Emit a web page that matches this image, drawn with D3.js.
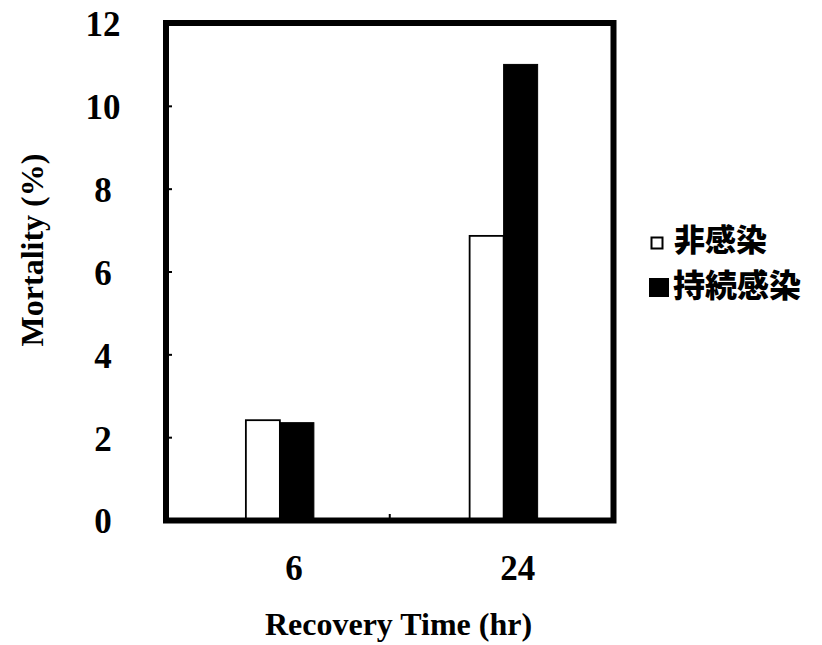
<!DOCTYPE html>
<html>
<head>
<meta charset="utf-8">
<script src="https://cdn.jsdelivr.net/npm/d3@7"></script>
<style>
    body { margin: 0; background: #fff; }
    svg { display: block; }
</style>
</head>
<body>
<script>
// values
var categories = ['6', '24'];
var seriesNames = ['非感染', '持続感染'];
var nonInfected = [2.41, 6.86];
var persistent = [2.35, 11.0];
var yTicks = [0, 2, 4, 6, 8, 10, 12];

var WIDTH = 822;
var HEIGHT = 645;
var LEFT = 166;
var RIGHT = 613.5;
var TOP = 23;
var BOTTOM = 520;
var BAR_W = 34;
var SERIF = '"Liberation Serif", "Times New Roman", serif';
var CJK = '"Noto Sans CJK JP", "Noto Sans CJK SC", sans-serif';

var svg = d3.select('body').append('svg')
    .attr('width', WIDTH)
    .attr('height', HEIGHT)

var x = d3.scaleBand().domain(categories).range([LEFT, RIGHT]).padding(0);
var y = d3.scaleLinear().domain([0, 12]).range([BOTTOM, TOP]);
var xInner = d3.scaleBand().domain(seriesNames).range([0, 2 * BAR_W]);

var rows = categories.map(function(c, i){
    return {cat: c, values: [nonInfected[i], persistent[i]]};
});

var groups = svg.selectAll('.group').data(rows).enter()
    .append('g')
    .attr('class', 'group')
    .attr('transform', function(d){
        return 'translate(' + (x(d.cat) + x.bandwidth()/2 - BAR_W + 2) + ',0)';
    })

groups.selectAll('rect').data(function(d){
        return d.values.map(function(v, j){ return {name: seriesNames[j], value: v}; });
    }).enter()
    .append('rect')
    .attr('x', function(d){ return xInner(d.name); })
    .attr('y', function(d){ return y(d.value); })
    .attr('width', xInner.bandwidth())
    .attr('height', function(d){ return BOTTOM - y(d.value); })
    .attr('fill', function(d, j){ return j === 0 ? '#fff' : '#000'; })
    .attr('stroke', '#000')
    .attr('stroke-width', function(d, j){ return j === 0 ? 1.8 : 1; })

// y axis: small ticks pointing inward, labels centred left of frame
var yAxis = svg.append('g')
    .attr('transform', 'translate(' + LEFT + ',0)')
    .call(d3.axisLeft(y).tickValues(yTicks).tickSizeInner(-6).tickSizeOuter(0));
yAxis.select('.domain').remove();
yAxis.selectAll('.tick line').attr('stroke', '#000').attr('stroke-width', 2);
yAxis.selectAll('.tick text')
    .attr('x', 103 - LEFT)
    .attr('dy', '0.37em')
    .attr('text-anchor', 'middle')
    .style('font-family', SERIF)
    .style('font-size', '35px')
    .style('font-weight', 'bold')
    .attr('fill', '#000')

// x axis labels
var xAxis = svg.append('g')
    .attr('transform', 'translate(0,' + BOTTOM + ')')
    .call(d3.axisBottom(x).tickSize(0));
xAxis.select('.domain').remove();
xAxis.selectAll('.tick text')
    .attr('y', 60)
    .attr('dy', 0)
    .attr('dx', 16)
    .style('font-family', SERIF)
    .style('font-size', '35px')
    .style('font-weight', 'bold')
    .attr('fill', '#000')

// tick mark between the categories
svg.append('line')
    .attr('x1', x(categories[1]))
    .attr('x2', x(categories[1]))
    .attr('y1', BOTTOM)
    .attr('y2', BOTTOM - 6)
    .attr('stroke', '#000')
    .attr('stroke-width', 2)

// plot frame
svg.append('rect')
    .attr('x', LEFT)
    .attr('y', TOP)
    .attr('width', RIGHT - LEFT)
    .attr('height', BOTTOM - TOP + 0.5)
    .attr('fill', 'none')
    .attr('stroke', '#000')
    .attr('stroke-width', 6)

// axis titles
svg.append('text')
    .attr('x', 398.5)
    .attr('y', 635)
    .attr('text-anchor', 'middle')
    .style('font-family', SERIF)
    .style('font-size', '32px')
    .style('font-weight', 'bold')
    .text('Recovery Time (hr)')

svg.append('text')
    .attr('transform', 'translate(43,250) rotate(-90)')
    .attr('text-anchor', 'middle')
    .style('font-family', SERIF)
    .style('font-size', '32px')
    .style('font-weight', 'bold')
    .text('Mortality (%)')

// legend
svg.append('rect')
    .attr('x', 651.5)
    .attr('y', 237.5)
    .attr('width', 11)
    .attr('height', 11)
    .attr('fill', '#fff')
    .attr('stroke', '#000')
    .attr('stroke-width', 2)
svg.append('text')
    .attr('x', 674)
    .attr('y', 251)
    .style('font-family', CJK)
    .style('font-size', '31px')
    .style('font-weight', 900)
    .text(seriesNames[0])

svg.append('rect')
    .attr('x', 649)
    .attr('y', 278)
    .attr('width', 20)
    .attr('height', 19)
    .attr('fill', '#000')
svg.append('text')
    .attr('x', 673)
    .attr('y', 297)
    .style('font-family', CJK)
    .style('font-size', '32px')
    .style('font-weight', 900)
    .text(seriesNames[1])
</script>
</body>
</html>
